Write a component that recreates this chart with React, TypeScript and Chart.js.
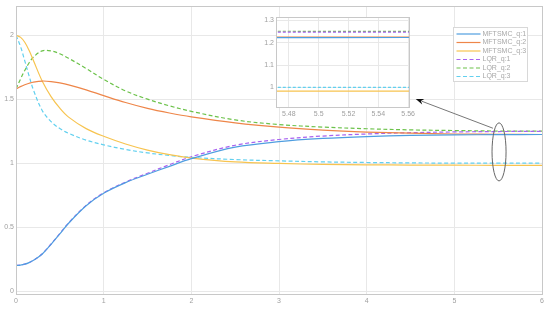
import React, { useEffect, useRef } from "react";
import { Chart, registerables } from "chart.js";
Chart.register(...registerables);

const xs = [0, 0.05, 0.1, 0.15, 0.2, 0.3, 0.4, 0.5, 0.6, 0.8, 1.0, 1.25, 1.5, 1.75, 2.0, 2.5, 3.0, 3.5, 4.0, 4.5, 5.0, 5.5, 6.0];
const mftsmcQ1 = [0.2, 0.2025, 0.21, 0.2225, 0.24, 0.29, 0.365, 0.447, 0.53, 0.667, 0.765, 0.848, 0.913, 0.975, 1.035, 1.125, 1.168, 1.193, 1.208, 1.217, 1.221, 1.223, 1.224];
const mftsmcQ2 = [1.58, 1.598, 1.613, 1.625, 1.634, 1.642, 1.638, 1.627, 1.612, 1.573, 1.528, 1.474, 1.428, 1.392, 1.362, 1.315, 1.281, 1.258, 1.243, 1.234, 1.228, 1.225, 1.224];
const mftsmcQ3 = [2.0, 1.985, 1.945, 1.88, 1.8, 1.64, 1.52, 1.43, 1.36, 1.27, 1.21, 1.15, 1.102, 1.066, 1.04, 1.01, 0.998, 0.99, 0.987, 0.985, 0.984, 0.983, 0.983];
const lqrQ1 = [0.2, 0.2025, 0.21, 0.223, 0.241, 0.292, 0.368, 0.45, 0.533, 0.67, 0.768, 0.852, 0.921, 0.988, 1.05, 1.14, 1.185, 1.212, 1.228, 1.238, 1.244, 1.247, 1.249];
const lqrQ2 = [1.58, 1.655, 1.725, 1.785, 1.83, 1.878, 1.878, 1.855, 1.82, 1.74, 1.655, 1.565, 1.5, 1.448, 1.405, 1.338, 1.302, 1.282, 1.269, 1.26, 1.255, 1.251, 1.25];
const lqrQ3 = [2.0, 1.915, 1.8, 1.68, 1.57, 1.41, 1.325, 1.27, 1.233, 1.18, 1.143, 1.107, 1.08, 1.06, 1.045, 1.028, 1.018, 1.01, 1.005, 1.002, 1.0, 1.0, 1.0];

const seriesNames = ["MFTSMC_q:1", "MFTSMC_q:2", "MFTSMC_q:3", "LQR_q:1", "LQR_q:2", "LQR_q:3"];
const seriesValues = [mftsmcQ1, mftsmcQ2, mftsmcQ3, lqrQ1, lqrQ2, lqrQ3];
const seriesColors = ["#4f9ee0", "#ee8649", "#f7c450", "#a862f0", "#6cc24a", "#62d0ef"];
const seriesDashed = [false, false, false, true, true, true];

const mainXTicks = [0, 1, 2, 3, 4, 5, 6];
const mainYTicks = [0, 0.5, 1, 1.5, 2];
const insetXTicks = [5.48, 5.5, 5.52, 5.54, 5.56];
const insetYTicks = [1, 1.1, 1.2, 1.3];

// annotation (data units)
const ellipseCenter = { x: 5.51, y: 1.088 };
const ellipseRadius = { x: 0.08, y: 0.227 };
const arrowFrom = { x: 5.44, y: 1.273 };
const arrowTo = { x: 4.56, y: 1.502 };

const FONT = "'Liberation Sans', Arial, sans-serif";
const TICK_COLOR = "#a0a0a0";

function makeDatasets(dash: number[]) {
  return seriesNames.map((name, i) => ({
    label: name,
    data: xs.map((x, j) => ({ x, y: seriesValues[i][j] })),
    borderColor: seriesColors[i],
    backgroundColor: seriesColors[i],
    borderWidth: 1.2,
    borderDash: seriesDashed[i] ? dash : [],
    pointRadius: 0,
    tension: 0.35,
    fill: false,
  }));
}

const mainOverlay = {
  id: "mainOverlay",
  afterDraw(chart: any) {
    const { ctx, chartArea: a, scales } = chart;
    const sx = scales.x, sy = scales.y;
    ctx.save();
    ctx.strokeStyle = "#c8c8c8";
    ctx.lineWidth = 1;
    ctx.strokeRect(Math.round(a.left) + 0.5, Math.round(a.top) + 0.5, Math.round(a.right - a.left), Math.round(a.bottom - a.top));

    // ellipse
    const cx = sx.getPixelForValue(ellipseCenter.x);
    const cy = sy.getPixelForValue(ellipseCenter.y);
    const rx = Math.abs(sx.getPixelForValue(ellipseCenter.x + ellipseRadius.x) - cx);
    const ry = Math.abs(sy.getPixelForValue(ellipseCenter.y + ellipseRadius.y) - cy);
    ctx.strokeStyle = "#666";
    ctx.beginPath();
    ctx.ellipse(cx, cy, rx, ry, 0, 0, Math.PI * 2);
    ctx.stroke();

    // arrow
    const x1 = sx.getPixelForValue(arrowFrom.x), y1 = sy.getPixelForValue(arrowFrom.y);
    const x2 = sx.getPixelForValue(arrowTo.x), y2 = sy.getPixelForValue(arrowTo.y);
    const ang = Math.atan2(y2 - y1, x2 - x1);
    const hl = 8, hw = 3;
    ctx.strokeStyle = "#777";
    ctx.beginPath();
    ctx.moveTo(x1, y1);
    ctx.lineTo(x2 - Math.cos(ang) * hl * 0.8, y2 - Math.sin(ang) * hl * 0.8);
    ctx.stroke();
    ctx.fillStyle = "#111";
    ctx.beginPath();
    ctx.moveTo(x2, y2);
    ctx.lineTo(x2 - Math.cos(ang) * hl - Math.sin(ang) * hw, y2 - Math.sin(ang) * hl + Math.cos(ang) * hw);
    ctx.lineTo(x2 - Math.cos(ang) * hl * 0.7, y2 - Math.sin(ang) * hl * 0.7);
    ctx.lineTo(x2 - Math.cos(ang) * hl + Math.sin(ang) * hw, y2 - Math.sin(ang) * hl - Math.cos(ang) * hw);
    ctx.closePath();
    ctx.fill();

    // legend
    const bw = 74, bh = 54;
    const bx = Math.round(a.right - 15 - bw) + 0.5;
    const by = Math.round(a.top + 21) + 0.5;
    ctx.fillStyle = "#fff";
    ctx.fillRect(bx, by, bw, bh);
    ctx.strokeStyle = "#d8d8d8";
    ctx.strokeRect(bx, by, bw, bh);
    ctx.font = `7px ${FONT}`;
    ctx.textBaseline = "middle";
    ctx.textAlign = "left";
    seriesNames.forEach((name, i) => {
      const yy = by + 6.5 + i * 8.5;
      ctx.strokeStyle = seriesColors[i];
      ctx.lineWidth = 1.2;
      ctx.setLineDash(seriesDashed[i] ? [4, 2.5] : []);
      ctx.beginPath();
      ctx.moveTo(bx + 3, yy);
      ctx.lineTo(bx + 27, yy);
      ctx.stroke();
      ctx.setLineDash([]);
      ctx.fillStyle = "#a8a8a8";
      ctx.fillText(name, bx + 29, yy);
    });
    ctx.restore();
  },
};

const insetOverlay = {
  id: "insetOverlay",
  beforeDraw(chart: any) {
    const { ctx, chartArea: a } = chart;
    ctx.save();
    ctx.fillStyle = "#fff";
    ctx.fillRect(a.left, a.top, a.right - a.left, a.bottom - a.top);
    ctx.restore();
  },
  afterDraw(chart: any) {
    const { ctx, chartArea: a } = chart;
    ctx.save();
    ctx.strokeStyle = "#c8c8c8";
    ctx.lineWidth = 1;
    ctx.strokeRect(Math.round(a.left) + 0.5, Math.round(a.top) + 0.5, Math.round(a.right - a.left), Math.round(a.bottom - a.top));
    ctx.restore();
  },
};

function fmt(v: number) {
  return String(Math.round(v * 1000) / 1000);
}

export default function App() {
  const mainRef = useRef<HTMLCanvasElement>(null);
  const insetRef = useRef<HTMLCanvasElement>(null);

  useEffect(() => {
    const main = new Chart(mainRef.current!, {
      type: "line",
      data: { datasets: makeDatasets([4, 2.5]) as any },
      plugins: [mainOverlay],
      options: {
        animation: false,
        responsive: false,
        maintainAspectRatio: false,
        layout: { padding: { top: 6, right: 8, left: 0, bottom: 0 } },
        plugins: { legend: { display: false }, tooltip: { enabled: false } },
        scales: {
          x: {
            type: "linear",
            min: 0,
            max: 6,
            afterFit: (s: any) => { s.height = 15; },
            afterBuildTicks: (s: any) => { s.ticks = mainXTicks.map((v) => ({ value: v })); },
            grid: { color: "#e8e8e8", drawTicks: false },
            border: { display: false },
            ticks: { color: TICK_COLOR, font: { size: 7, family: FONT }, padding: 3, maxRotation: 0, callback: (v: any) => fmt(v) },
          },
          y: {
            type: "linear",
            min: -0.023,
            max: 2.227,
            afterFit: (s: any) => { s.width = 16; },
            afterBuildTicks: (s: any) => { s.ticks = mainYTicks.map((v) => ({ value: v })); },
            grid: { color: "#e8e8e8", drawTicks: false },
            border: { display: false },
            ticks: { color: TICK_COLOR, font: { size: 7, family: FONT }, padding: 2, callback: (v: any) => fmt(v) },
          },
        },
      },
    });
    const inset = new Chart(insetRef.current!, {
      type: "line",
      data: { datasets: makeDatasets([3, 2]) as any },
      plugins: [insetOverlay],
      options: {
        animation: false,
        responsive: false,
        maintainAspectRatio: false,
        layout: { padding: { top: 7, right: 6, left: 0, bottom: 0 } },
        plugins: { legend: { display: false }, tooltip: { enabled: false } },
        scales: {
          x: {
            type: "linear",
            min: 5.4714,
            max: 5.5606,
            afterFit: (s: any) => { s.height = 15; },
            afterBuildTicks: (s: any) => { s.ticks = insetXTicks.map((v) => ({ value: v })); },
            grid: { color: "#e8e8e8", drawTicks: false },
            border: { display: false },
            ticks: { color: TICK_COLOR, font: { size: 7, family: FONT }, padding: 3, maxRotation: 0, callback: (v: any) => fmt(v) },
          },
          y: {
            type: "linear",
            min: 0.912,
            max: 1.315,
            afterFit: (s: any) => { s.width = 18; },
            afterBuildTicks: (s: any) => { s.ticks = insetYTicks.map((v) => ({ value: v })); },
            grid: { color: "#e8e8e8", drawTicks: false },
            border: { display: false },
            ticks: { color: TICK_COLOR, font: { size: 7, family: FONT }, padding: 2, callback: (v: any) => fmt(v) },
          },
        },
      },
    });
    return () => {
      main.destroy();
      inset.destroy();
    };
  }, []);

  return (
    <div style={{ position: "fixed", left: 0, top: 0, width: 550, height: 309, background: "#fff" }}>
      <canvas ref={mainRef} width={550} height={309} style={{ position: "absolute", left: 0, top: 0 }} />
      <canvas ref={insetRef} width={160} height={112} style={{ position: "absolute", left: 258, top: 10 }} />
    </div>
  );
}
